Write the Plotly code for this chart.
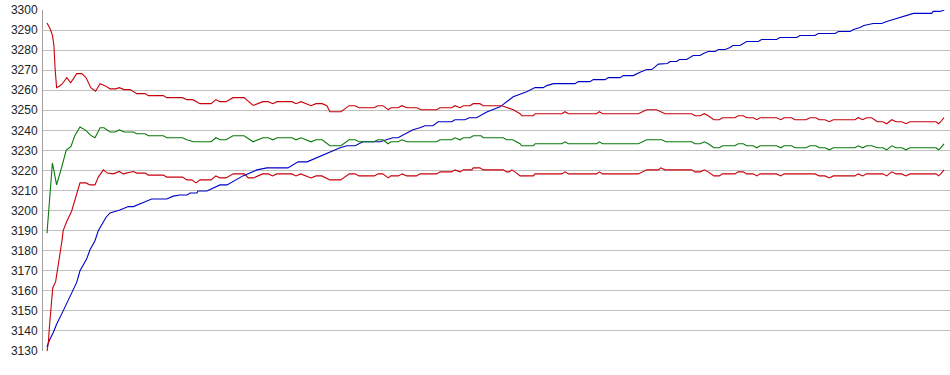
import plotly.graph_objects as go

# ---- data (x = sample position, y = value) ----
upper_x = [0, 1, 1.8, 2.3, 2.7, 3.2, 4.1, 5, 6.6, 7.9, 9.9, 11.6, 13, 14.6, 16.2, 17.7, 19.3, 21, 22.9, 24.1,
           25.7, 27.7, 29.9, 32.7, 33.8, 38.8, 39.9, 45.2, 46.6, 48.6, 51, 54.7, 56.3, 57.7, 59.7, 62, 65.7, 68.7,
           72, 73.7, 75.3, 76.7, 81.7, 83, 84.7, 86.3, 88, 89.7, 91.7, 93.3, 94.3, 98, 100.7, 102.7, 104, 109,
           110.3, 112, 113.7, 114.7, 117, 118.3, 120, 123.3, 124.7, 129.9, 131, 134.9, 136, 137.7, 138.8, 141,
           142.1, 144.3, 145.4, 151.6, 153.8, 155.4, 157.7, 158.2, 162.1, 162.7, 171.6, 172.7, 173.8, 183.2,
           184.1, 185.2, 197.1, 199.9, 203.2, 204.9, 206, 214.9, 216, 217.7, 219.1, 220.4, 222.3, 224.1, 225.2,
           229.3, 230.4, 232.1, 233.2, 235.4, 236.6, 237.7, 243.2, 244.6, 245.7, 248.2, 249.3, 253, 254.3, 256.3,
           257.4, 259.3, 260.8, 262.1, 269.3, 270.4, 271.9, 273.2, 274.9, 276.8, 278.6, 279.9, 281.6, 283, 284.9,
           286.3, 287.7, 296.3, 297.2, 297.9, 299]
upper = [3293.5, 3290.8, 3287.5, 3282.5, 3270.8, 3261.3, 3262, 3263, 3266.3, 3263.7, 3268.3, 3268.3, 3266.3,
         3261.3, 3259.5, 3263.3, 3262.3, 3260.7, 3260.7, 3261.3, 3260.3, 3260.3, 3258.3, 3258.3, 3257.3, 3257.3,
         3256.3, 3256.3, 3255.3, 3255.3, 3253.3, 3253.3, 3255.3, 3254.3, 3254.3, 3256.3, 3256.3, 3252.4, 3254.3,
         3254.3, 3253.3, 3254.3, 3254.3, 3253.3, 3254.3, 3253.3, 3252.3, 3253.3, 3253.3, 3252.3, 3249.3, 3249.3,
         3252.3, 3252.3, 3251.3, 3251.3, 3252.3, 3252.3, 3250.3, 3251.3, 3251.3, 3252.3, 3251.3, 3251.3, 3250.3,
         3250.3, 3251.3, 3251.3, 3252.3, 3251.3, 3252.3, 3252.3, 3253.3, 3253.3, 3252.3, 3252.3, 3251.3, 3250.3,
         3248.3, 3247.3, 3247.3, 3248.3, 3248.3, 3249.3, 3248.3, 3248.3, 3249.3, 3248.3, 3248.3, 3250.3, 3250.3,
         3249.3, 3248.3, 3248.3, 3247.3, 3247.3, 3248.3, 3247.3, 3245.3, 3245.3, 3246.3, 3246.3, 3247.3, 3247.3,
         3246.3, 3246.3, 3245.3, 3246.3, 3246.3, 3245.3, 3246.3, 3246.3, 3245.3, 3245.3, 3246.3, 3246.3, 3245.3,
         3245.3, 3244.3, 3245.3, 3245.3, 3246.3, 3245.3, 3246.3, 3246.3, 3244.3, 3244.3, 3243.3, 3245.3, 3244.3,
         3244.3, 3243.3, 3244.3, 3244.3, 3243.3, 3244.3, 3246.3]

mid_x = [0, 0.7, 1.2, 1.8, 2.3, 3.2, 4.9, 6.4, 8, 9.3, 11, 12.9, 14.6, 16, 17.7, 19, 21, 22.7, 24.1, 25.7, 28.8,
         29.9, 32.7, 33.8, 38.8, 39.9, 45.2, 46.6, 48.8, 51, 54.7, 56.3, 57.7, 59.7, 62, 65.7, 68.7, 72, 73.7,
         75.3, 76.7, 81.7, 83, 84.7, 86.3, 88, 89.7, 91.7, 94.3, 98, 100.7, 102.7, 104, 109, 110.3, 112, 113.7,
         114.7, 117, 118.3, 120, 124.7, 129.9, 131, 134.9, 136, 137.7, 138.8, 141, 142.1, 144.7, 145.4, 152.1,
         153.2, 155.2, 157.7, 158.2, 162.1, 162.7, 171.6, 172.7, 173.8, 183.2, 184.1, 185.2, 197.1, 199.9, 204.9,
         206.3, 214.9, 216, 217.7, 219.1, 220.4, 222.3, 224.1, 225.2, 229.3, 230.4, 232.1, 233.2, 235.4, 236.6,
         237.7, 243.2, 244.6, 245.7, 248.2, 249.3, 253, 254.3, 256.3, 257.4, 259.3, 260.8, 262.1, 269.3, 270.4,
         271.9, 273.2, 274.9, 276.8, 278.6, 279.9, 281.6, 283, 284.9, 286.3, 287.7, 296.3, 297.2, 297.9, 299]
mid = [3188.7, 3201.3, 3210, 3223.7, 3220, 3212.8, 3221.7, 3230, 3232, 3237.5, 3241.7, 3240, 3237.5, 3236.3,
       3241.3, 3241.3, 3239.2, 3239.2, 3240.2, 3239.2, 3239.2, 3238.3, 3238.3, 3237.3, 3237.3, 3236.3, 3236.3,
       3235.3, 3234.3, 3234.3, 3234.3, 3236.3, 3235.3, 3235.3, 3237.3, 3237.3, 3234.3, 3236.3, 3236.3, 3235.3,
       3236.3, 3236.3, 3235.3, 3236.3, 3235.3, 3234.3, 3235.3, 3235.3, 3232.3, 3232.3, 3235.3, 3235.3, 3234.3,
       3234.3, 3235.3, 3235.3, 3233.3, 3234.3, 3234.3, 3235.3, 3234.3, 3234.3, 3234.3, 3235.3, 3235.3, 3236.3,
       3235.3, 3236.3, 3236.3, 3237.3, 3237.3, 3236.3, 3236.3, 3235.3, 3235.3, 3233.3, 3232.3, 3232.3, 3233.3,
       3233.3, 3234.3, 3233.3, 3233.3, 3234.3, 3233.3, 3233.3, 3235.3, 3235.3, 3234.3, 3234.3, 3233.3, 3233.3,
       3234.3, 3233.3, 3231.3, 3231.3, 3232.3, 3232.3, 3233.3, 3233.3, 3232.3, 3232.3, 3231.3, 3232.3, 3232.3,
       3231.3, 3232.3, 3232.3, 3231.3, 3231.3, 3232.3, 3232.3, 3231.3, 3231.3, 3230.3, 3231.3, 3231.3, 3232.3,
       3231.3, 3232.3, 3232.3, 3231.3, 3231.3, 3230.3, 3232.3, 3231.3, 3231.3, 3230.3, 3231.3, 3231.3, 3230.3,
       3231.3, 3233.3]

lower_x = [0, 0.5, 0.7, 1, 1.3, 1.7, 1.9, 2.9, 3.4, 4, 4.4, 5, 5.4, 6.6, 8.2, 9.9, 11, 13, 14.3, 16, 17.1, 18.8,
           20.1, 22.1, 24.1, 25.4, 28.8, 30, 32.7, 33.8, 38.8, 39.9, 45.2, 46.6, 48.2, 49.7, 51, 54.7, 56.3, 57.7,
           59.7, 62.1, 65.8, 67.1, 68.8, 71.9, 73.8, 75.2, 76.6, 81.6, 83, 84.6, 86.3, 88, 89.7, 91.6, 94.3, 97.9,
           100.8, 102.7, 104, 109.1, 110.4, 111.9, 113.8, 114.6, 117.1, 118.4, 119.9, 123.2, 124.3, 129.9, 131,
           134.9, 136, 137.7, 138.8, 141.6, 142.1, 144.3, 145.4, 152.1, 153.2, 154.1, 154.9, 156, 157.7, 162.1,
           162.7, 171.6, 172.7, 173.8, 183.2, 184.1, 185.2, 197.1, 199.9, 203.8, 204.6, 206, 214.9, 216, 217.7,
           219.1, 220.4, 222.3, 224.1, 225.2, 229.3, 230.4, 232.1, 233.2, 235.4, 236.6, 237.7, 243.2, 244.6, 245.7,
           256, 257.4, 259.3, 260.8, 262.1, 269.3, 270.4, 271.9, 273.2, 278.6, 279.9, 281.6, 283, 284.9, 286.3,
           287.7, 296.3, 297.2, 297.9, 299]
lower = [3129.5, 3135, 3140, 3145, 3151.7, 3158.3, 3161.3, 3164.7, 3169.2, 3174.2, 3179.7, 3185, 3190, 3194.7,
         3199.7, 3208.3, 3213.8, 3213.8, 3212.8, 3212.8, 3216.7, 3220.3, 3218.7, 3218.3, 3219.5, 3218.3, 3219.5,
         3218.7, 3218.7, 3217.7, 3217.7, 3216.7, 3216.7, 3215.3, 3215.3, 3213.8, 3215.3, 3215.3, 3217.3, 3216.3,
         3216.3, 3218.3, 3218.3, 3216.3, 3216.3, 3218.3, 3218.3, 3217.3, 3218.3, 3218.3, 3217.3, 3218.3, 3217.3,
         3216.3, 3217.3, 3217.3, 3215.3, 3215.3, 3218.3, 3218.3, 3217.3, 3217.3, 3218.3, 3218.3, 3216.3, 3217.3,
         3217.3, 3218.3, 3217.3, 3217.3, 3218.3, 3218.3, 3219.3, 3219.3, 3220.3, 3219.3, 3220.3, 3220.3, 3221.3,
         3221.3, 3220.3, 3220.3, 3219.3, 3219.3, 3220.3, 3219.3, 3217.3, 3217.3, 3218.3, 3218.3, 3219.3, 3218.3,
         3218.3, 3219.3, 3218.3, 3218.3, 3220.3, 3220.3, 3221.3, 3220.3, 3220.3, 3219.3, 3219.3, 3220.3, 3219.3,
         3217.3, 3217.3, 3218.3, 3218.3, 3219.3, 3219.3, 3218.3, 3218.3, 3217.3, 3218.3, 3218.3, 3217.3, 3218.3,
         3218.3, 3217.3, 3217.3, 3216.3, 3217.3, 3217.3, 3218.3, 3217.3, 3218.3, 3218.3, 3217.3, 3219.3, 3218.3,
         3218.3, 3217.3, 3218.3, 3218.3, 3217.3, 3218.3, 3220.3]

blue_x = [0, 0.7, 2.1, 3.2, 5.4, 8.2, 9.9, 11, 13.2, 14.3, 16, 17.1, 19.7, 21, 24.3, 27.1, 28.8, 32.1, 34.9, 39.9,
          42.1, 44.3, 46.7, 47.7, 50, 50.3, 53.3, 57.7, 60, 65.3, 70, 73.3, 80.3, 83.7, 86.7, 97.7, 100, 102.7,
          105.3, 111, 113.3, 115.3, 117, 122, 124.3, 126, 128.6, 130.4, 134.9, 136, 139.3, 140.8, 143.2, 146.6,
          151, 153.2, 155.4, 159.9, 162.7, 165.4, 166.6, 168.8, 176, 177.1, 181, 182.1, 186, 187.1, 191, 192.1,
          195.4, 197.7, 199.9, 201.6, 203.8, 206.8, 207.7, 209.9, 210.8, 213.2, 214.3, 215.4, 217.7, 218.8,
          220.4, 222.7, 223.8, 226, 227.7, 228.6, 231, 233.2, 237.1, 238.2, 243.2, 244.3, 249.9, 251, 256, 257.1,
          262.7, 263.8, 267.7, 268.8, 271, 272.3, 275.4, 278.2, 279.9, 282.1, 284.3, 286.6, 288.8, 294.9, 295.4,
          297.7, 299.1]
blue = [3132, 3135, 3139.2, 3143.3, 3150, 3159.2, 3164.2, 3170, 3175.8, 3180.3, 3185, 3190, 3196.7, 3198.8,
        3200.3, 3202, 3202, 3204, 3205.8, 3205.8, 3207.2, 3207.8, 3207.8, 3208.8, 3208.8, 3209.8, 3209.8, 3212.8,
        3212.8, 3217.3, 3220.3, 3221.3, 3221.3, 3224.3, 3224.3, 3231.3, 3232.3, 3232.3, 3234.3, 3234.3, 3235.3,
        3236.3, 3236.3, 3240.3, 3241.3, 3242.3, 3242.3, 3244.3, 3244.3, 3245.3, 3245.3, 3246.3, 3246.3, 3249.2,
        3251.7, 3254.2, 3256.7, 3259.2, 3261.3, 3261.3, 3262.3, 3263.3, 3263.3, 3264.3, 3264.3, 3265.3, 3265.3,
        3266.3, 3266.3, 3267.3, 3267.3, 3269, 3270.3, 3270.3, 3273, 3273.3, 3274.3, 3274.3, 3275.3, 3275.3,
        3276.3, 3277.3, 3277.3, 3278.3, 3279.3, 3279.3, 3280.3, 3280.3, 3281.3, 3282.3, 3282.3, 3284.3, 3284.3,
        3285.3, 3285.3, 3286.3, 3286.3, 3287.3, 3287.3, 3288.3, 3288.3, 3289.3, 3289.3, 3290.3, 3291.3, 3292.3,
        3293.3, 3293.3, 3294.3, 3295.3, 3296.3, 3297.3, 3298.3, 3298.3, 3299.3, 3299.3, 3300]

y_ticks = list(range(3130, 3301, 10))

RED = "#c8000a"
GREEN = "#0a7a0a"
BLUE = "#0000c8"

fig = go.Figure()
for xs, ys, col in [(blue_x, blue, BLUE), (mid_x, mid, GREEN), (lower_x, lower, RED), (upper_x, upper, RED)]:
    fig.add_trace(go.Scatter(x=xs, y=ys, mode="lines", line=dict(color=col, width=1.1), hoverinfo="skip"))

fig.update_layout(
    width=950, height=375,
    margin=dict(l=43, r=0, t=10, b=24),
    paper_bgcolor="white", plot_bgcolor="white",
    showlegend=False,
    font=dict(family="Liberation Sans, Arial, sans-serif", size=12, color="#222222"),
)
fig.update_xaxes(range=[-1.33, 301], showgrid=False, zeroline=False, showticklabels=False,
                 showline=False, ticks="")
fig.update_yaxes(range=[3130, 3300], tickvals=y_ticks, ticktext=[str(v) for v in y_ticks],
                 showgrid=True, gridcolor="#c0c0c0", gridwidth=1, zeroline=False,
                 showline=True, linecolor="#a0a0a0", linewidth=1, ticks="", ticklabelstandoff=2)

fig.write_html("out.html")
